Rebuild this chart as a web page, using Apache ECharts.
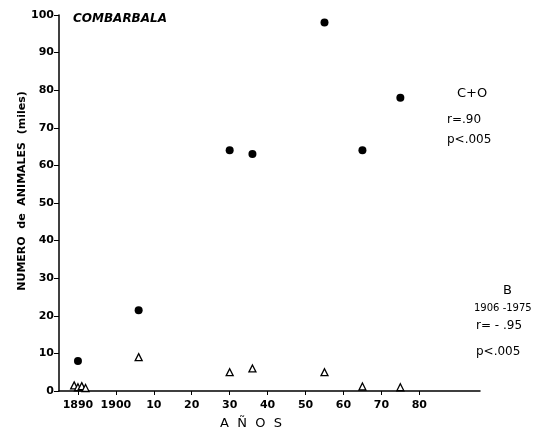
<!DOCTYPE html>
<html>
<head>
<meta charset="utf-8">
<script src="https://cdn.jsdelivr.net/npm/echarts@6/dist/echarts.min.js"></script>
<style>
html, body { margin: 0; padding: 0; background: #fff; }
#chart { width: 546px; height: 433px; }
</style>
</head>
<body>
<div id="chart"></div>
<script>
// C+O (circulos) y B (triangulos), miles de animales
var anosCO = [1890, 1906, 1930, 1936, 1955, 1965, 1975];
var valCO = [8, 21.5, 64, 63, 98, 64, 78];
var anosB = [1889, 1890, 1891, 1892, 1906, 1930, 1936, 1955, 1965, 1975];
var valB = [1.5, 1, 1.3, 0.8, 9, 5, 6, 5, 1.2, 1];
var xTicks = [1890, 1900, 1910, 1920, 1930, 1940, 1950, 1960, 1970, 1980];

function pares(xs, ys) {
    var out = [];
    for (var i = 0; i < xs.length; i++) out.push([xs[i], ys[i]]);
    return out;
}

var fuente = 'DejaVu Sans';
var myChart = echarts.init(document.getElementById('chart'));
option = {
    backgroundColor: '#fff',
    animation: false,
    grid: { left: 59, right: 66, top: 15, bottom: 42 },
    xAxis: {
        type: 'value',
        min: 1885,
        max: 1996,
        splitLine: { show: false },
        axisLine: { lineStyle: { color: '#000', width: 1.5 } },
        axisTick: { customValues: xTicks, length: 4, lineStyle: { color: '#000' } },
        axisLabel: {
            customValues: xTicks,
            color: '#000', fontFamily: fuente, fontSize: 11, fontWeight: 'bold', margin: 9,
            formatter: function (v) {
                return v <= 1900 ? String(v) : String(v - 1900);
            }
        }
    },
    yAxis: {
        type: 'value',
        min: 0,
        max: 100,
        interval: 10,
        splitLine: { show: false },
        axisLine: { show: true, lineStyle: { color: '#000', width: 1.5 } },
        axisTick: { show: true, length: 5, lineStyle: { color: '#000' } },
        axisLabel: { color: '#000', fontFamily: fuente, fontSize: 11, fontWeight: 'bold', margin: 5 }
    },
    graphic: [
        { type: 'text', left: 73, top: 13, style: { text: 'COMBARBALA', fill: '#000', font: 'italic bold 12px DejaVu Sans' } },
        { type: 'text', x: 22, y: 191, rotation: Math.PI / 2,
          style: { text: 'NUMERO  de  ANIMALES  (miles)', fill: '#000', font: 'bold 11px DejaVu Sans', align: 'center', verticalAlign: 'middle' } },
        { type: 'text', x: 251, y: 424,
          style: { text: 'A  Ñ  O  S', fill: '#000', font: '13px DejaVu Sans', align: 'center', verticalAlign: 'middle' } },
        { type: 'text', left: 457, top: 87, style: { text: 'C+O', fill: '#000', font: '13px DejaVu Sans' } },
        { type: 'text', left: 447, top: 114, style: { text: 'r=.90', fill: '#000', font: '12px DejaVu Sans' } },
        { type: 'text', left: 447, top: 134, style: { text: 'p<.005', fill: '#000', font: '12px DejaVu Sans' } },
        { type: 'text', left: 503, top: 284, style: { text: 'B', fill: '#000', font: '13px DejaVu Sans' } },
        { type: 'text', left: 474, top: 303, style: { text: '1906 -1975', fill: '#000', font: '10px DejaVu Sans' } },
        { type: 'text', left: 476, top: 320, style: { text: 'r= - .95', fill: '#000', font: '12px DejaVu Sans' } },
        { type: 'text', left: 476, top: 346, style: { text: 'p<.005', fill: '#000', font: '12px DejaVu Sans' } }
    ],
    series: [
        {
            name: 'C+O',
            type: 'scatter',
            symbol: 'circle',
            symbolSize: 8,
            itemStyle: { color: '#000', opacity: 1 },
            data: pares(anosCO, valCO)
        },
        {
            name: 'B',
            type: 'scatter',
            symbol: 'triangle',
            symbolSize: 7,
            itemStyle: { color: '#fff', borderColor: '#000', borderWidth: 1.3, opacity: 1 },
            data: pares(anosB, valB)
        }
    ]
};
myChart.setOption(option);
</script>
</body>
</html>
